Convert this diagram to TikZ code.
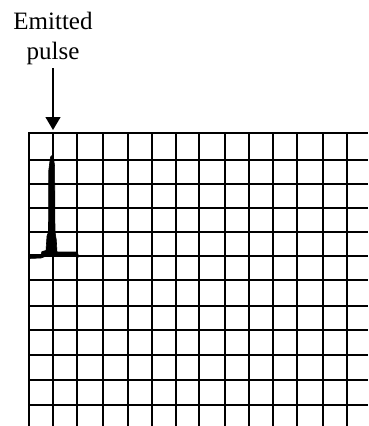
\documentclass[tikz,border=0pt]{standalone}
\usepackage{fontspec}
\setmainfont{Liberation Serif}
\usetikzlibrary{arrows.meta}
\tikzset{
  gridline/.style={line width=1.6pt, black},
  pointer/.style={line width=1.3pt, -{Triangle[width=15pt,length=13pt]}},
  labeltext/.style={align=center, inner sep=0pt, font=\fontsize{25}{30}\selectfont},
  pulseshape/.style={fill=black, draw=black, line width=0.6pt, line join=round}
}
\begin{document}
\begin{tikzpicture}[x=1pt,y=-1pt]
\useasboundingbox (0,0) rectangle (368,426);
% grid
\foreach \yy in {133,160,184,208,232,256,280,306,330,355,380,405}
  \draw[gridline] (28.2,\yy) -- (368,\yy);
\foreach \xx in {29,53,77,103,128,152,176,199,225,249,273,297,323,347}
  \draw[gridline] (\xx,132.2) -- (\xx,426);
% pulse
\fill[pulseshape] (29,254.5) -- (41,254.5) -- (42,251.5) -- (46,250.5) -- (47,236) -- (48.5,232)
  -- (48.8,170) -- (50.5,157) -- (53,154.5) -- (54.6,166) -- (55,232) -- (56.3,240) -- (57,252)
  -- (76.5,252) -- (78,254) -- (78,257.5) -- (76,256.5) -- (57,256.5) -- (45,256.5) -- (41,258)
  -- (29,258.5) -- cycle;
% label and arrow
\node[labeltext, anchor=north] (label) at (53,12) {Emitted\\pulse};
\coordinate (tip) at (53,130);
\draw[pointer] ([yshift=-3pt]label.south) -- (tip);
\end{tikzpicture}
\end{document}
